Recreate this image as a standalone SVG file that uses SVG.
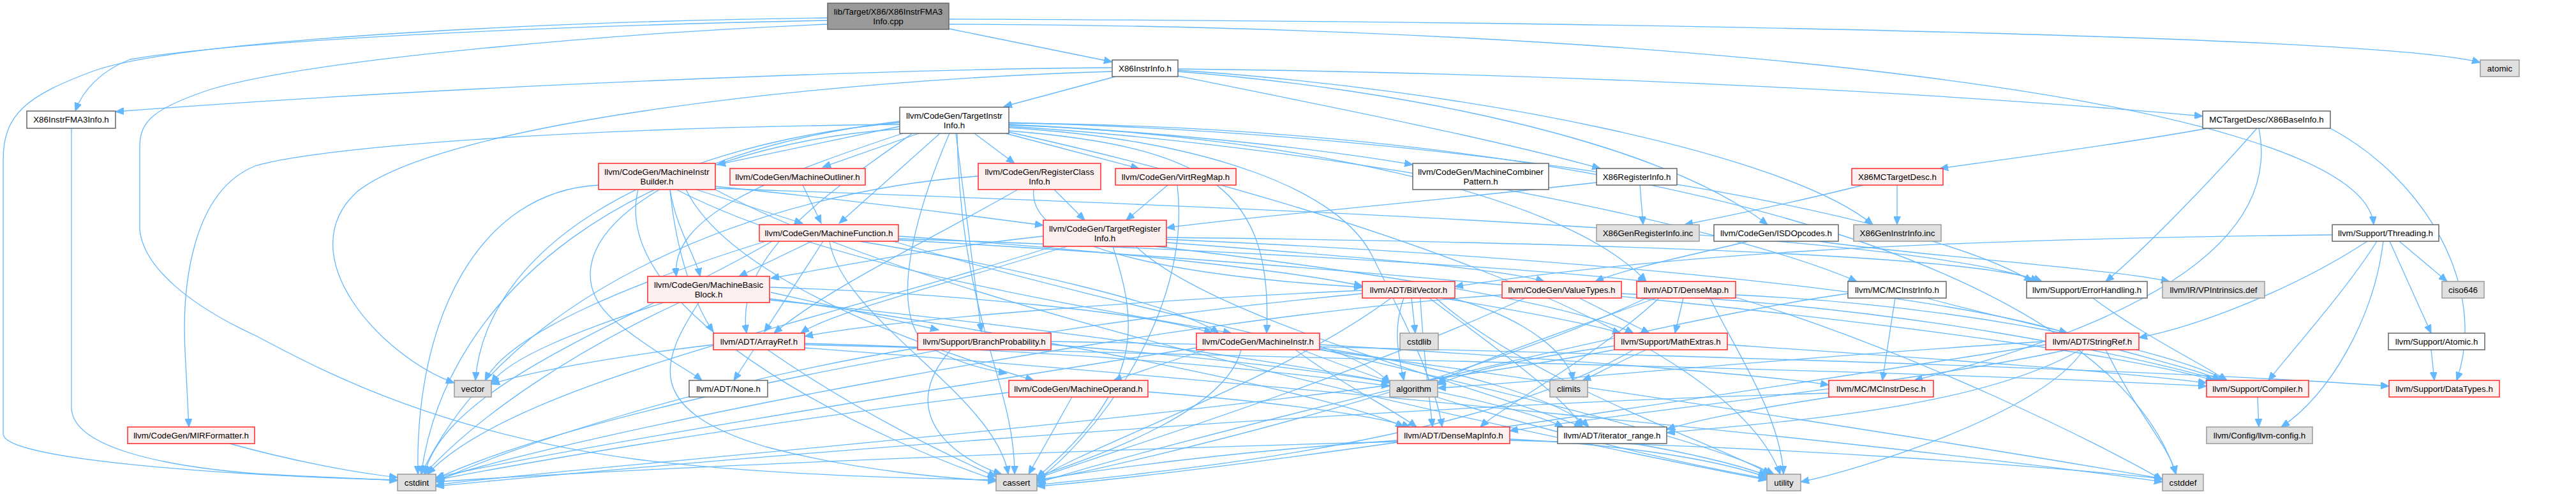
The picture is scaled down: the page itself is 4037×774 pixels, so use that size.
<svg xmlns="http://www.w3.org/2000/svg" width="4037" height="774" viewBox="0 0 4037 774">
<style>
.n rect{stroke-width:1.5}
.w rect{fill:#ffffff;stroke:#666666}
.r rect{fill:#fff0f0;stroke:#ff2a2a}
.g rect{fill:#e0e0e0;stroke:#999999}
.root rect{fill:#999999;stroke:#666666}
text{font-family:"Liberation Sans",Arial,Helvetica,sans-serif;font-size:13.33px;text-anchor:middle;fill:#000000}
#edges path{fill:none;stroke:#63b8ff;stroke-width:1.3;marker-end:url(#a)}
</style>
<defs>
<marker id="a" markerWidth="14" markerHeight="11" refX="13" refY="5.5" orient="auto" markerUnits="userSpaceOnUse">
<path d="M0,0 L13,5.5 L0,11 z" fill="#63b8ff" stroke="#63b8ff" stroke-width="1"/>
</marker>
</defs>
<rect x="0" y="0" width="4037" height="774" fill="#ffffff"/>
<g id="edges">
<path d="M1297,32 C900,40 400,60 204,93 C160,110 130,140 118,174"/>
<path d="M1487,45 L1743,97"/>
<path d="M1487,30 C2693,34 3750,60 3887,98"/>
<path d="M1487,38 C2588,40 3700,150 3720,352"/>
<path d="M1297,28 C900,32 300,60 150,110 C40,150 5,180 5,250 L5,680 C5,720 350,745 623,752"/>
<path d="M1297,38 C1000,50 500,90 330,140 C240,170 219,190 219,230 L219,360 C225,420 300,480 403,527 C520,590 700,680 1000,720 C1200,745 1450,750 1561,752"/>
<path d="M112,201 L112,640 C115,700 250,730 400,742 C500,748 580,750 623,753"/>
<path d="M1743,106 C1400,108 700,135 181,175"/>
<path d="M1748,120 L1573,167"/>
<path d="M1846,108 C2500,115 3100,150 3452,182"/>
<path d="M1846,119 C2100,170 2350,220 2508,264"/>
<path d="M1846,112 C2200,140 2600,220 2770,352"/>
<path d="M1846,110 C2300,140 2800,240 2935,352"/>
<path d="M1743,112 C1300,125 700,190 560,300 C450,400 600,560 712,600"/>
<path d="M1410,198 L1124,258"/>
<path d="M1440,209 L1289,262"/>
<path d="M1527,209 L1590,256"/>
<path d="M1576,209 L1785,264"/>
<path d="M1581,195 C1800,205 2050,230 2214,258"/>
<path d="M1473,209 L1315,350"/>
<path d="M1415,209 C1200,280 1050,340 1060,433"/>
<path d="M1581,196 C2000,210 2450,300 2580,441"/>
<path d="M1581,198 C2100,230 2700,350 2910,441"/>
<path d="M1581,192 C2300,210 3000,330 3185,441"/>
<path d="M1430,209 C1300,300 1150,400 1170,522"/>
<path d="M1498,209 L1538,520"/>
<path d="M1581,205 C1900,230 1995,300 1985,522"/>
<path d="M1410,190 C1000,240 850,400 960,500 C1020,550 1080,580 1100,596"/>
<path d="M1488,209 C1440,320 1390,480 1450,540 C1500,570 1550,580 1578,585"/>
<path d="M1410,195 C900,200 500,230 400,260 C300,300 285,450 290,550 L296,669"/>
<path d="M1581,200 C1900,220 2100,300 2150,400 C2200,500 2250,600 2260,669"/>
<path d="M1410,202 C1000,230 700,450 660,743"/>
<path d="M1500,209 C1505,500 1590,600 1590,743"/>
<path d="M1581,207 C2000,300 2700,500 2790,743"/>
<path d="M1581,193 C2500,200 3300,400 3410,743"/>
<path d="M1410,192 C1000,230 760,400 745,596"/>
<path d="M1091,297 L1258,350"/>
<path d="M1121,292 C1300,310 1500,335 1635,353"/>
<path d="M1050,297 C1060,360 1090,400 1097,433"/>
<path d="M1050,297 C1060,400 1090,480 1118,520"/>
<path d="M1060,297 C1300,420 1700,480 1930,522"/>
<path d="M1075,297 C1150,450 1500,560 1620,596"/>
<path d="M1121,295 C1800,320 3000,360 3195,441"/>
<path d="M938,290 C750,300 650,500 655,743"/>
<path d="M1000,297 C950,500 1400,700 1561,752"/>
<path d="M1121,297 C1500,500 2500,700 2769,752"/>
<path d="M1258,290 L1287,350"/>
<path d="M1652,297 L1700,345"/>
<path d="M1595,297 C1450,380 1300,450 1213,522"/>
<path d="M1620,297 C1610,380 1800,430 2135,450"/>
<path d="M1533,276 C1200,300 800,450 660,743"/>
<path d="M1830,290 L1765,345"/>
<path d="M1845,290 C1870,500 1700,700 1625,752"/>
<path d="M2502,286 C2200,320 1950,340 1828,357"/>
<path d="M2570,290 L2575,352"/>
<path d="M2920,290 C2800,320 2700,340 2640,352"/>
<path d="M2973,290 L2973,352"/>
<path d="M3460,201 C3300,230 3100,255 3040,264"/>
<path d="M3540,201 C3580,400 3300,520 3000,596"/>
<path d="M3652,201 C3800,280 3900,450 3850,596"/>
<path d="M3537,201 C3450,300 3350,400 3300,441"/>
<path d="M1272,378 L1158,433"/>
<path d="M1290,378 L1198,520"/>
<path d="M1408,370 C1700,390 2000,420 2135,448"/>
<path d="M1408,374 C1900,390 2400,420 2580,441"/>
<path d="M1347,378 C1600,420 1850,480 1910,522"/>
<path d="M1408,376 C2200,420 3200,520 3470,596"/>
<path d="M1300,378 C1320,500 1560,620 1580,743"/>
<path d="M1210,378 C1000,500 700,600 665,743"/>
<path d="M1400,378 C1800,500 2600,650 2780,743"/>
<path d="M1200,378 C1000,440 800,520 760,596"/>
<path d="M1672,386 C1500,440 1300,490 1255,522"/>
<path d="M1828,375 C2400,400 3000,450 3240,522"/>
<path d="M1780,386 C1900,500 2300,600 2480,669"/>
<path d="M1635,370 C1450,390 1300,420 1208,436"/>
<path d="M1828,380 C2100,400 2350,420 2420,441"/>
<path d="M1828,372 C2500,380 3100,400 3200,441"/>
<path d="M1810,386 C2100,420 2450,470 2560,522"/>
<path d="M1744,386 C1780,500 1800,600 1625,748"/>
<path d="M1650,386 C1300,500 800,600 670,743"/>
<path d="M2740,378 C2650,400 2550,420 2500,441"/>
<path d="M2850,378 C3000,400 3300,420 3400,441"/>
<path d="M3655,368 C3000,375 2600,400 2280,449"/>
<path d="M3710,378 C3600,450 3450,510 3352,529"/>
<path d="M3735,378 C3720,500 3650,620 3575,669"/>
<path d="M3725,378 C3680,450 3600,540 3555,596"/>
<path d="M3760,378 L3835,441"/>
<path d="M3745,378 L3810,522"/>
<path d="M1206,450 C1500,460 1800,490 1900,522"/>
<path d="M1208,458 L1471,517"/>
<path d="M1206,470 C1700,520 2300,600 2450,669"/>
<path d="M1206,468 C1600,520 2100,620 2200,669"/>
<path d="M1095,474 C1040,560 1000,640 1200,700 C1350,740 1500,750 1561,754"/>
<path d="M1065,474 C900,550 750,650 665,743"/>
<path d="M1040,474 C900,520 800,560 770,600"/>
<path d="M2135,455 C1800,470 1400,500 1261,527"/>
<path d="M2226,467 C2230,550 2240,620 2245,669"/>
<path d="M2240,467 C2350,550 2450,620 2480,669"/>
<path d="M2260,467 C2400,490 2500,510 2540,522"/>
<path d="M2200,467 C2180,520 2195,570 2200,596"/>
<path d="M2180,467 C2000,600 1700,700 1625,752"/>
<path d="M2275,467 C2400,500 2460,560 2465,596"/>
<path d="M2135,460 C1500,520 900,650 683,750"/>
<path d="M2212,467 L2218,522"/>
<path d="M2250,467 C2400,600 2700,700 2775,743"/>
<path d="M2475,467 L2585,522"/>
<path d="M2541,460 C3000,480 3350,560 3480,596"/>
<path d="M2390,467 C2100,600 1700,720 1625,750"/>
<path d="M2354,462 C1800,500 900,680 683,752"/>
<path d="M2600,467 C2500,560 2350,640 2320,669"/>
<path d="M2720,462 C3100,480 3400,550 3490,596"/>
<path d="M2638,467 L2625,522"/>
<path d="M2595,467 C2450,520 2300,570 2253,600"/>
<path d="M2580,467 C2300,600 1800,720 1625,754"/>
<path d="M2720,466 C3000,550 3300,700 3389,752"/>
<path d="M2680,467 C2720,550 2790,650 2795,743"/>
<path d="M3020,467 C3100,490 3200,510 3240,522"/>
<path d="M2970,467 L2950,596"/>
<path d="M2896,460 C2600,500 1800,700 1625,757"/>
<path d="M3280,467 C3350,520 3450,570 3490,596"/>
<path d="M1181,548 L1150,596"/>
<path d="M1261,540 C2000,560 3000,580 3458,605"/>
<path d="M1261,538 C1700,550 2000,580 2178,605"/>
<path d="M1203,548 C1350,650 1500,720 1561,747"/>
<path d="M1261,545 C2000,600 3000,700 3389,755"/>
<path d="M1118,540 C950,560 820,585 770,602"/>
<path d="M1647,535 C2500,550 3400,580 3744,605"/>
<path d="M1647,540 C1900,560 2100,585 2178,600"/>
<path d="M1490,548 C1400,650 1500,720 1570,743"/>
<path d="M1438,545 C1100,600 800,700 683,755"/>
<path d="M2030,548 C2100,600 2180,640 2220,669"/>
<path d="M2068,545 C2300,580 2450,630 2490,669"/>
<path d="M1890,548 C1820,570 1780,585 1745,596"/>
<path d="M2068,540 C2400,560 2750,585 2866,603"/>
<path d="M2068,542 C2120,560 2160,580 2178,600"/>
<path d="M1945,548 C1920,650 1700,720 1625,747"/>
<path d="M2068,548 C2600,620 3100,700 3389,750"/>
<path d="M1875,545 C1400,620 900,700 683,748"/>
<path d="M2040,548 C2300,650 2600,720 2769,750"/>
<path d="M2707,540 C3000,560 3300,580 3458,600"/>
<path d="M2530,542 C2400,560 2300,580 2253,603"/>
<path d="M2560,548 C2300,700 1800,740 1625,760"/>
<path d="M2580,548 C2530,570 2495,590 2480,596"/>
<path d="M2530,548 C2000,650 900,730 683,760"/>
<path d="M3240,548 C3000,600 2600,640 2366,675"/>
<path d="M3260,548 C3100,640 2800,660 2612,678"/>
<path d="M3320,548 C3400,570 3460,585 3480,596"/>
<path d="M3206,535 C2800,560 2400,600 2253,608"/>
<path d="M3206,540 C2500,650 1900,740 1625,762"/>
<path d="M3300,548 C3350,650 3400,700 3410,743"/>
<path d="M3265,548 C3200,650 2900,740 2822,755"/>
<path d="M3810,548 L3815,596"/>
<path d="M1799,614 C2000,630 2150,650 2210,669"/>
<path d="M1680,622 L1612,743"/>
<path d="M1581,615 C1200,660 850,720 683,752"/>
<path d="M2870,622 C2750,640 2650,660 2612,673"/>
<path d="M2866,616 C2000,640 900,740 683,762"/>
<path d="M3538,622 L3540,669"/>
<path d="M360,695 C450,720 550,740 623,748"/>
<path d="M2190,690 C1900,710 1700,740 1625,752"/>
<path d="M2366,690 C2800,700 3200,730 3389,750"/>
<path d="M2190,692 C1500,710 900,740 683,755"/>
<path d="M2366,688 C2600,700 2720,730 2769,748"/>
<path d="M2560,695 C2650,710 2730,730 2769,745"/>
</g>
<g id="n0" class="n root"><rect x="1297" y="5" width="190" height="41"/><text x="1392" y="22.5">lib/Target/X86/X86InstrFMA3</text><text x="1392" y="37.5">Info.cpp</text></g>
<g id="n1" class="n w"><rect x="42" y="174" width="139" height="27"/><text x="111.5" y="192">X86InstrFMA3Info.h</text></g>
<g id="n2" class="n w"><rect x="1743" y="94" width="103" height="26"/><text x="1794.5" y="111.5">X86InstrInfo.h</text></g>
<g id="n3" class="n g"><rect x="3887" y="94" width="61" height="26"/><text x="3917.5" y="111.5">atomic</text></g>
<g id="n4" class="n w"><rect x="1410" y="168" width="171" height="41"/><text x="1495.5" y="185.5">llvm/CodeGen/TargetInstr</text><text x="1495.5" y="200.5">Info.h</text></g>
<g id="n5" class="n w"><rect x="3452" y="174" width="200" height="27"/><text x="3552" y="192">MCTargetDesc/X86BaseInfo.h</text></g>
<g id="n6" class="n r"><rect x="938" y="256" width="183" height="41"/><text x="1029.5" y="273.5">llvm/CodeGen/MachineInstr</text><text x="1029.5" y="288.5">Builder.h</text></g>
<g id="n7" class="n r"><rect x="1144" y="264" width="212" height="26"/><text x="1250" y="281.5">llvm/CodeGen/MachineOutliner.h</text></g>
<g id="n8" class="n r"><rect x="1533" y="256" width="192" height="41"/><text x="1629" y="273.5">llvm/CodeGen/RegisterClass</text><text x="1629" y="288.5">Info.h</text></g>
<g id="n9" class="n r"><rect x="1748" y="264" width="189" height="26"/><text x="1842.5" y="281.5">llvm/CodeGen/VirtRegMap.h</text></g>
<g id="n10" class="n w"><rect x="2214" y="256" width="213" height="41"/><text x="2320.5" y="273.5">llvm/CodeGen/MachineCombiner</text><text x="2320.5" y="288.5">Pattern.h</text></g>
<g id="n11" class="n w"><rect x="2502" y="264" width="126" height="26"/><text x="2565" y="281.5">X86RegisterInfo.h</text></g>
<g id="n12" class="n r"><rect x="2902" y="264" width="143" height="26"/><text x="2973.5" y="281.5">X86MCTargetDesc.h</text></g>
<g id="n13" class="n r"><rect x="1190" y="352" width="218" height="26"/><text x="1299" y="369.5">llvm/CodeGen/MachineFunction.h</text></g>
<g id="n14" class="n r"><rect x="1635" y="345" width="193" height="41"/><text x="1731.5" y="362.5">llvm/CodeGen/TargetRegister</text><text x="1731.5" y="377.5">Info.h</text></g>
<g id="n15" class="n g"><rect x="2502" y="352" width="161" height="26"/><text x="2582.5" y="369.5">X86GenRegisterInfo.inc</text></g>
<g id="n16" class="n w"><rect x="2686" y="352" width="195" height="26"/><text x="2783.5" y="369.5">llvm/CodeGen/ISDOpcodes.h</text></g>
<g id="n17" class="n g"><rect x="2905" y="352" width="137" height="26"/><text x="2973.5" y="369.5">X86GenInstrInfo.inc</text></g>
<g id="n18" class="n w"><rect x="3655" y="352" width="167" height="26"/><text x="3738.5" y="369.5">llvm/Support/Threading.h</text></g>
<g id="n19" class="n r"><rect x="1015" y="433" width="191" height="41"/><text x="1110.5" y="450.5">llvm/CodeGen/MachineBasic</text><text x="1110.5" y="465.5">Block.h</text></g>
<g id="n20" class="n r"><rect x="2135" y="441" width="145" height="26"/><text x="2207.5" y="458.5">llvm/ADT/BitVector.h</text></g>
<g id="n21" class="n r"><rect x="2354" y="441" width="187" height="26"/><text x="2447.5" y="458.5">llvm/CodeGen/ValueTypes.h</text></g>
<g id="n22" class="n r"><rect x="2565" y="441" width="155" height="26"/><text x="2642.5" y="458.5">llvm/ADT/DenseMap.h</text></g>
<g id="n23" class="n w"><rect x="2896" y="441" width="154" height="26"/><text x="2973" y="458.5">llvm/MC/MCInstrInfo.h</text></g>
<g id="n24" class="n w"><rect x="3176" y="441" width="189" height="26"/><text x="3270.5" y="458.5">llvm/Support/ErrorHandling.h</text></g>
<g id="n25" class="n g"><rect x="3389" y="441" width="160" height="26"/><text x="3469" y="458.5">llvm/IR/VPIntrinsics.def</text></g>
<g id="n26" class="n g"><rect x="3827" y="441" width="66" height="26"/><text x="3860" y="458.5">ciso646</text></g>
<g id="n27" class="n r"><rect x="1118" y="522" width="143" height="26"/><text x="1189.5" y="539.5">llvm/ADT/ArrayRef.h</text></g>
<g id="n28" class="n r"><rect x="1438" y="522" width="209" height="26"/><text x="1542.5" y="539.5">llvm/Support/BranchProbability.h</text></g>
<g id="n29" class="n r"><rect x="1875" y="522" width="193" height="26"/><text x="1971.5" y="539.5">llvm/CodeGen/MachineInstr.h</text></g>
<g id="n30" class="n g"><rect x="2194" y="522" width="60" height="26"/><text x="2224" y="539.5">cstdlib</text></g>
<g id="n31" class="n r"><rect x="2530" y="522" width="177" height="26"/><text x="2618.5" y="539.5">llvm/Support/MathExtras.h</text></g>
<g id="n32" class="n r"><rect x="3206" y="522" width="146" height="26"/><text x="3279" y="539.5">llvm/ADT/StringRef.h</text></g>
<g id="n33" class="n w"><rect x="3743" y="522" width="151" height="26"/><text x="3818.5" y="539.5">llvm/Support/Atomic.h</text></g>
<g id="n34" class="n g"><rect x="712" y="596" width="58" height="26"/><text x="741" y="613.5">vector</text></g>
<g id="n35" class="n w"><rect x="1080" y="596" width="123" height="26"/><text x="1141.5" y="613.5">llvm/ADT/None.h</text></g>
<g id="n36" class="n r"><rect x="1581" y="596" width="218" height="26"/><text x="1690" y="613.5">llvm/CodeGen/MachineOperand.h</text></g>
<g id="n37" class="n g"><rect x="2178" y="596" width="75" height="26"/><text x="2215.5" y="613.5">algorithm</text></g>
<g id="n38" class="n g"><rect x="2429" y="596" width="59" height="26"/><text x="2458.5" y="613.5">climits</text></g>
<g id="n39" class="n r"><rect x="2866" y="596" width="164" height="26"/><text x="2948" y="613.5">llvm/MC/MCInstrDesc.h</text></g>
<g id="n40" class="n r"><rect x="3458" y="596" width="160" height="26"/><text x="3538" y="613.5">llvm/Support/Compiler.h</text></g>
<g id="n41" class="n r"><rect x="3744" y="596" width="173" height="26"/><text x="3830.5" y="613.5">llvm/Support/DataTypes.h</text></g>
<g id="n42" class="n r"><rect x="200" y="669" width="199" height="26"/><text x="299.5" y="686.5">llvm/CodeGen/MIRFormatter.h</text></g>
<g id="n43" class="n r"><rect x="2190" y="669" width="176" height="26"/><text x="2278" y="686.5">llvm/ADT/DenseMapInfo.h</text></g>
<g id="n44" class="n w"><rect x="2441" y="669" width="171" height="26"/><text x="2526.5" y="686.5">llvm/ADT/iterator_range.h</text></g>
<g id="n45" class="n g"><rect x="3458" y="669" width="166" height="26"/><text x="3541" y="686.5">llvm/Config/llvm-config.h</text></g>
<g id="n46" class="n g"><rect x="623" y="743" width="60" height="26"/><text x="653" y="760.5">cstdint</text></g>
<g id="n47" class="n g"><rect x="1561" y="743" width="64" height="26"/><text x="1593" y="760.5">cassert</text></g>
<g id="n48" class="n g"><rect x="2769" y="743" width="53" height="26"/><text x="2795.5" y="760.5">utility</text></g>
<g id="n49" class="n g"><rect x="3389" y="743" width="64" height="26"/><text x="3421" y="760.5">cstddef</text></g>
</svg>
